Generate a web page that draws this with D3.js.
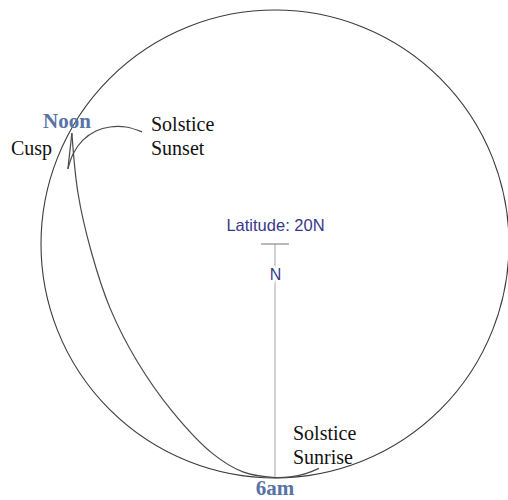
<html>
<head>
<meta charset="utf-8">
<script src="https://cdn.jsdelivr.net/npm/d3@7"></script>
<style>
body {
    margin: 0;
    background: white;
}
svg {
    background-color: white;
}
.horizon {
    fill: none;
    stroke: #3a3a3a;
    stroke-width: 1.1;
}
.sunpath {
    fill: none;
    stroke: #4a4a4a;
    stroke-width: 1.2;
}
.meridian {
    stroke: #b4b4b4;
    stroke-width: 1.2;
}
.tick {
    stroke: #8a8a8a;
    stroke-width: 1.2;
}
.serif {
    font-family: "Liberation Serif", serif;
    font-size: 20px;
    fill: #111;
}
.time {
    font-family: "Liberation Serif", serif;
    font-weight: bold;
    font-size: 21px;
    fill: #5873a6;
}
.sans {
    font-family: "Liberation Sans", Arial, sans-serif;
    fill: #38388a;
}
</style>
</head>
<body>
<div id="container"></div>

<script type="text/javascript">
// sky coordinates: horizon circle has radius 1, zenith at (0,0)
// sun path from solstice sunrise, through 6am, up to noon
var morningU = [0.188, 0.132, 0.073, 0, -0.137, -0.265, -0.440, -0.590, -0.705, -0.786, -0.842, -0.868];
var morningV = [-0.959, -0.981, -0.994, -0.998, -0.974, -0.897, -0.714, -0.500, -0.274, -0.030, 0.218, 0.474];

// the cusp just after noon
var cuspU = [-0.868, -0.885];
var cuspV = [0.474, 0.321];

// afternoon branch out to solstice sunset
var eveningU = [-0.885, -0.863, -0.821, -0.765, -0.705, -0.637, -0.568];
var eveningV = [0.321, 0.385, 0.444, 0.483, 0.500, 0.500, 0.479];

var latitudeLabel = "Latitude: 20N";
var northLabel = "N";
var timeLabels = ["Noon", "6am"];
var noteLabels = ["Cusp", "Solstice", "Sunset", "Solstice", "Sunrise"];

var width = 508, height = 500;
var cx = 275, cy = 244, radius = 234;

var x = d3.scaleLinear().domain([-1, 1]).range([cx - radius, cx + radius]);
var y = d3.scaleLinear().domain([-1, 1]).range([cy + radius, cy - radius]);

function zip(us, vs) {
    return us.map(function(u, i) { return [u, vs[i]]; });
}

var svg = d3.select("#container").append("svg")
    .attr("width", width)
    .attr("height", height);

// horizon
svg.append("circle")
    .attr("class", "horizon")
    .attr("cx", x(0))
    .attr("cy", y(0))
    .attr("r", x(1) - x(0));

// meridian line from zenith to the horizon and the zenith tick
svg.append("line")
    .attr("class", "meridian")
    .attr("x1", x(0)).attr("y1", y(0))
    .attr("x2", x(0)).attr("y2", y(-1));

svg.append("line")
    .attr("class", "tick")
    .attr("x1", x(-0.06)).attr("y1", y(0))
    .attr("x2", x(0.06)).attr("y2", y(0));

var smooth = d3.line()
    .x(function(d) { return x(d[0]); })
    .y(function(d) { return y(d[1]); })
    .curve(d3.curveCatmullRom.alpha(0.5));

var straight = d3.line()
    .x(function(d) { return x(d[0]); })
    .y(function(d) { return y(d[1]); });

svg.append("path")
    .attr("class", "sunpath")
    .attr("d", smooth(zip(morningU, morningV)));

svg.append("path")
    .attr("class", "sunpath")
    .attr("d", straight(zip(cuspU, cuspV)));

svg.append("path")
    .attr("class", "sunpath")
    .attr("d", smooth(zip(eveningU, eveningV)));

// labels
svg.append("text")
    .attr("class", "sans")
    .attr("x", x(0) + 0.5)
    .attr("y", 231)
    .attr("text-anchor", "middle")
    .style("font-size", "16.5px")
    .text(latitudeLabel);

svg.append("text")
    .attr("class", "sans")
    .attr("x", x(0) + 0.5)
    .attr("y", 280)
    .attr("text-anchor", "middle")
    .style("font-size", "16px")
    .style("stroke", "white")
    .style("stroke-width", 5)
    .style("paint-order", "stroke")
    .text(northLabel);

svg.append("text")
    .attr("class", "time")
    .attr("x", 43)
    .attr("y", 128)
    .text(timeLabels[0]);

svg.append("text")
    .attr("class", "time")
    .attr("x", x(0))
    .attr("y", 495)
    .attr("text-anchor", "middle")
    .text(timeLabels[1]);

var notePos = [[11, 155], [151, 131], [151, 154.5], [293, 440], [293, 463.5]];

svg.selectAll("text.note")
    .data(noteLabels)
    .enter()
    .append("text")
    .attr("class", "serif note")
    .attr("x", function(d, i) { return notePos[i][0]; })
    .attr("y", function(d, i) { return notePos[i][1]; })
    .text(function(d) { return d; });
</script>
</body>
</html>
